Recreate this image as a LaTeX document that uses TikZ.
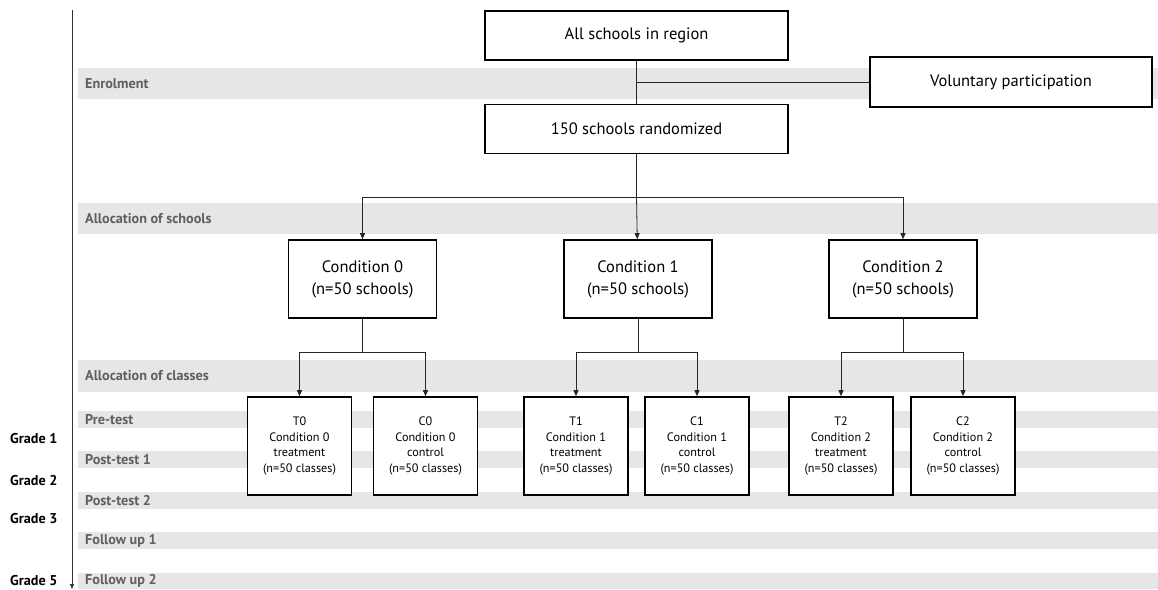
\documentclass[tikz,border=0pt]{standalone}
\usepackage{fontspec}
\setmainfont{PT Sans}
\usetikzlibrary{arrows.meta}
\definecolor{bandgrey}{HTML}{E6E6E6}
\definecolor{labelgrey}{HTML}{5E5F61}

\begin{document}
\begin{tikzpicture}[x=1pt,y=-1pt,
  box/.style={draw, fill=white, line width=1.6pt, align=center, inner sep=0pt},
  bigbox/.style={box, minimum width=303pt, minimum height=49pt, font=\fontsize{16.5}{19}\selectfont},
  condbox/.style={box, minimum width=148pt, minimum height=78pt, font=\fontsize{16.5}{22}\selectfont},
  classbox/.style={box, minimum width=104pt, minimum height=98pt, font=\fontsize{12.2}{15.5}\selectfont},
  phase/.style={anchor=west, text=labelgrey, inner sep=0pt, font=\bfseries\fontsize{14.2}{16}\selectfont},
  grade/.style={anchor=west, inner sep=0pt, font=\bfseries\fontsize{14.2}{16}\selectfont},
  link/.style={line width=0.8pt, draw=black!85},
  arr/.style={link, -{Triangle[length=6pt,width=5pt]}}]
\useasboundingbox (0,0) rectangle (1158,589);

% phases
\fill[bandgrey] (78,68) rectangle (1158,99);
\node[phase] (enrol) at (85,83.5) {Enrolment};
\fill[bandgrey] (78,203) rectangle (1158,234);
\node[phase] (allocs) at (85,218.5) {Allocation of schools};
\fill[bandgrey] (78,360) rectangle (1158,392);
\node[phase] (allocc) at (85,376) {Allocation of classes};
\fill[bandgrey] (78,411) rectangle (1158,428);
\node[phase] (pre) at (85,419.5) {Pre-test};
\fill[bandgrey] (78,451) rectangle (1158,468);
\node[phase] (post1) at (85,459.5) {Post-test 1};
\fill[bandgrey] (78,492) rectangle (1158,509);
\node[phase] (post2) at (85,500.5) {Post-test 2};
\fill[bandgrey] (78,532) rectangle (1158,549);
\node[phase] (fu1) at (85,540.5) {Follow up 1};
\fill[bandgrey] (78,573) rectangle (1158,589);
\node[phase] (fu2) at (85,581) {Follow up 2};

% time axis
\node[grade] (g1) at (10,439) {Grade 1};
\node[grade] (g2) at (10,481) {Grade 2};
\node[grade] (g3) at (10,519) {Grade 3};
\node[grade] (g5) at (10,581) {Grade 5};
\coordinate (axtop) at (72,10);
\coordinate (axbot) at (72,589);
\draw[line width=1pt, black!80, -{Triangle[length=5pt,width=4pt]}] (axtop) -- (axbot);

% schools
\node[bigbox] (all) at (636.5,35.5) {All schools in region};
\node[bigbox] (rand) at (636.5,129) {150 schools randomized};
\node[box, minimum width=282pt, minimum height=50pt, font=\fontsize{16.5}{19}\selectfont] (vol) at (1011,82) {Voluntary participation};
\coordinate (join) at (636.5,82);
\draw[link] (all) -- (rand);
\draw[link] (join) -- (vol);

\node[condbox] (cond0) at (362.5,279) {Condition 0\\(n=50 schools)};
\node[condbox] (cond1) at (638,279) {Condition 1\\(n=50 schools)};
\node[condbox] (cond2) at (903,279) {Condition 2\\(n=50 schools)};
\coordinate (split) at (636.5,197);
\draw[link] (rand) -- (split);
\draw[arr] (split) -| (cond0);
\draw[arr] (split) -- (cond1);
\draw[arr] (split) -| (cond2);

% classes
\node[classbox] (t0) at (299.5,446) {T0\\Condition 0\\treatment\\(n=50 classes)};
\node[classbox] (c0) at (425.5,446) {C0\\Condition 0\\control\\(n=50 classes)};
\node[classbox] (t1) at (576,446) {T1\\Condition 1\\treatment\\(n=50 classes)};
\node[classbox] (c1) at (697,446) {C1\\Condition 1\\control\\(n=50 classes)};
\node[classbox] (t2) at (841,446) {T2\\Condition 2\\treatment\\(n=50 classes)};
\node[classbox] (c2) at (963,446) {C2\\Condition 2\\control\\(n=50 classes)};
\coordinate (split0) at (362.5,352);
\coordinate (split1) at (638,352);
\coordinate (split2) at (903,352);
\draw[link] (cond0) -- (split0);
\draw[link] (cond1) -- (split1);
\draw[link] (cond2) -- (split2);
\draw[arr] (split0) -| (t0);
\draw[arr] (split0) -| (c0);
\draw[arr] (split1) -| (t1);
\draw[arr] (split1) -| (c1);
\draw[arr] (split2) -| (t2);
\draw[arr] (split2) -| (c2);
\end{tikzpicture}
\end{document}
